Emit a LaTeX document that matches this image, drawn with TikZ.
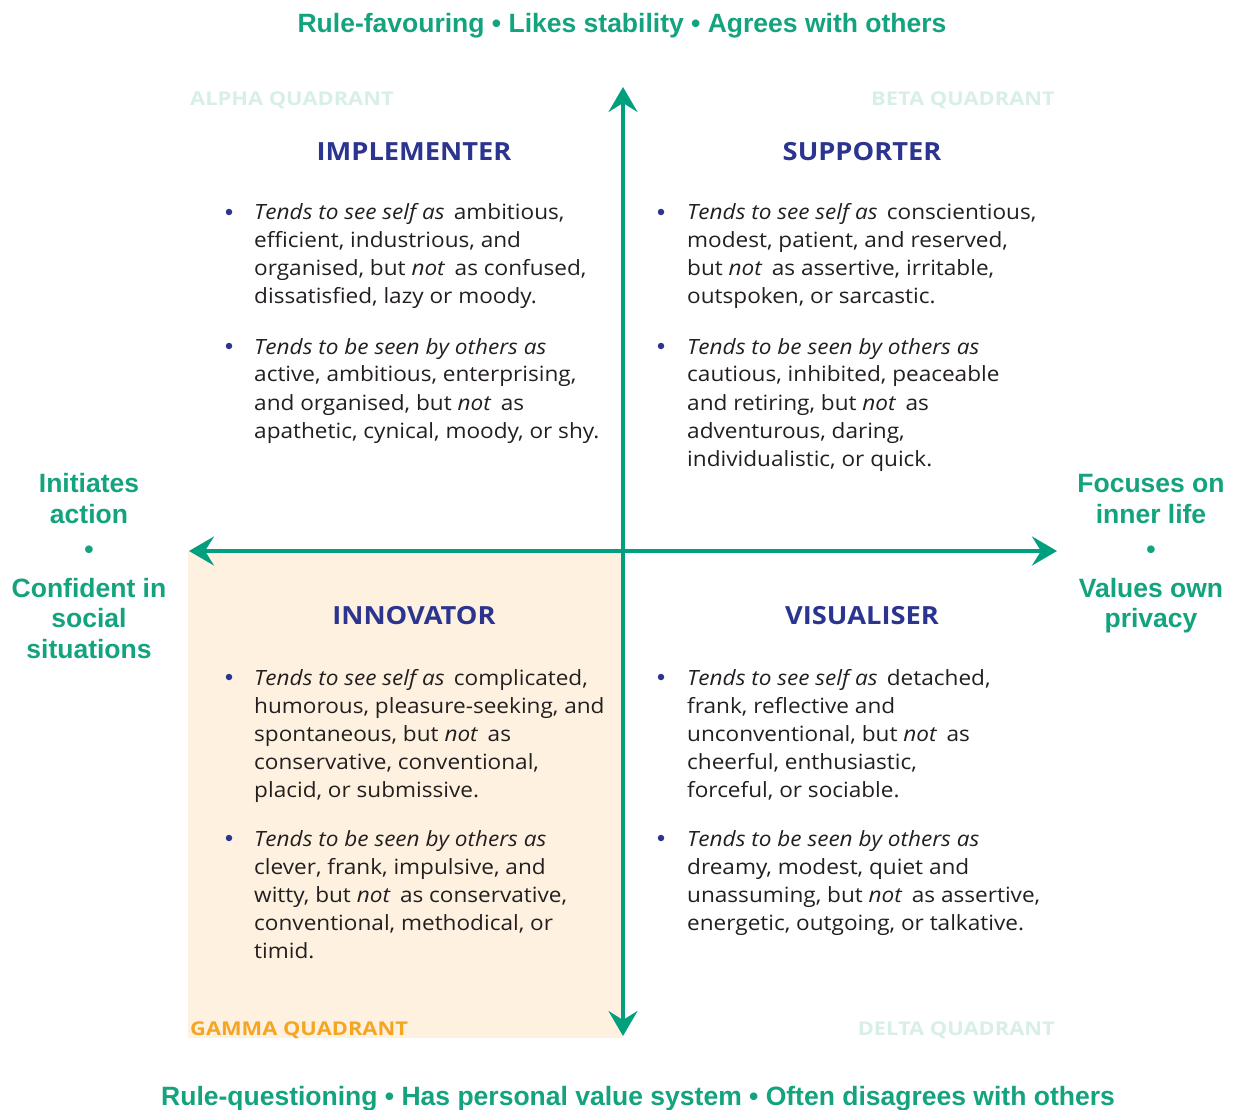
\documentclass[tikz,border=0pt]{standalone}
\usepackage{fontspec}
\setmainfont{Open Sans}[FakeStretch=1.075]
\newfontfamily\headfont{Liberation Sans}
\newfontfamily\titlefont{Open Sans}[FakeStretch=1.09]
\newfontfamily\qfont{Open Sans}[FakeStretch=1.15]
\usetikzlibrary{arrows.meta}
\definecolor{agreen}{HTML}{00A07E}
\definecolor{hgreen}{HTML}{13A37E}
\definecolor{tblue}{HTML}{2B3590}
\definecolor{bodyc}{HTML}{231F20}
\definecolor{qlight}{HTML}{D8EFE7}
\definecolor{gfill}{HTML}{FEF1E0}
\definecolor{gorange}{HTML}{F6A523}
\newcommand\bpara[1]{\parbox[t]{420pt}{\fontsize{21}{28}\selectfont\raggedright #1}}
\begin{document}
\begin{tikzpicture}[x=1pt,y=-1pt,
  headtxt/.style={font=\headfont\bfseries\fontsize{26.5}{30}\selectfont, text=hgreen, inner sep=0, anchor=base},
  qtitle/.style={font=\titlefont\bfseries\fontsize{25}{28}\selectfont, text=tblue, inner sep=0, anchor=base},
  qlabel/.style={font=\qfont\bfseries\fontsize{19}{22}\selectfont, inner sep=0},
  bodytxt/.style={inner sep=0, anchor=base west, text=bodyc},
  bdot/.style={circle, fill=tblue, inner sep=0, minimum size=6.5pt},
  axis/.style={draw=agreen, line width=3.5pt,
    {Stealth[length=25pt,width=29pt,inset=9pt]}-{Stealth[length=25pt,width=29pt,inset=9pt]}}
]
\useasboundingbox (0,0) rectangle (1243,1110);
\fill[white] (0,0) rectangle (1243,1110);
\fill[gfill] (188,551) rectangle (623,1038);

% axes
\coordinate (top) at (623,87);
\coordinate (bot) at (623,1036);
\coordinate (lft) at (189,551);
\coordinate (rgt) at (1057,551);
\draw[axis] (bot) -- (top);
\draw[axis] (lft) -- (rgt);

% top / bottom
\node[headtxt] (toptxt) at (622,33) {Rule-favouring • Likes stability • Agrees with others};
\node[headtxt] (bottxt) at (638,1105) {Rule-questioning • Has personal value system • Often disagrees with others};

% left
\node[headtxt] (l1) at (89,492) {Initiates};
\node[headtxt] (l2) at (89,523) {action};
\node[headtxt] (l3) at (89,558) {•};
\node[headtxt] (l4) at (89,597) {Confident in};
\node[headtxt] (l5) at (89,627) {social};
\node[headtxt] (l6) at (89,658) {situations};
% right
\node[headtxt] (r1) at (1151,492) {Focuses on};
\node[headtxt] (r2) at (1151,523) {inner life};
\node[headtxt] (r3) at (1151,558) {•};
\node[headtxt] (r4) at (1151,597) {Values own};
\node[headtxt] (r5) at (1151,627) {privacy};

% quadrant labels
\node[qlabel, anchor=base west, text=qlight] (qa) at (190,106) {ALPHA QUADRANT};
\node[qlabel, anchor=base east, text=qlight] (qb) at (1055,106) {BETA QUADRANT};
\node[qlabel, anchor=base west, text=gorange] (qg) at (190,1035) {GAMMA QUADRANT};
\node[qlabel, anchor=base east, text=qlight] (qd) at (1055,1035) {DELTA QUADRANT};

% titles
\node[qtitle] (timp) at (414,161) {IMPLEMENTER};
\node[qtitle] (tsup) at (862,161) {SUPPORTER};
\node[qtitle] (tinn) at (414,624) {INNOVATOR};
\node[qtitle] (tvis) at (862,624) {VISUALISER};

% bullets
\node[bdot] (d1) at (229,212) {};
\node[bdot] (d2) at (229,346) {};
\node[bdot] (d3) at (661,212) {};
\node[bdot] (d4) at (661,346) {};
\node[bdot] (d5) at (229,677) {};
\node[bdot] (d6) at (229,838) {};
\node[bdot] (d7) at (661,677) {};
\node[bdot] (d8) at (661,838) {};

% implementer
\node[bodytxt] (p1) at (254,220) {\bpara{\textit{Tends to see self as}\ \,ambitious,\\efficient, industrious, and\\organised, but \textit{not}\ \,as confused,\\dissatisfied, lazy or moody.}};
\node[bodytxt] (p2) at (254,354) {\bpara{\textit{Tends to be seen by others as}\\active, ambitious, enterprising,\\and organised, but \textit{not}\ \,as\\apathetic, cynical, moody, or shy.}};
% supporter
\node[bodytxt] (p3) at (687,220) {\bpara{\textit{Tends to see self as}\ \,conscientious,\\modest, patient, and reserved,\\but \textit{not}\ \,as assertive, irritable,\\outspoken, or sarcastic.}};
\node[bodytxt] (p4) at (687,354) {\bpara{\textit{Tends to be seen by others as}\\cautious, inhibited, peaceable\\and retiring, but \textit{not}\ \,as\\adventurous, daring,\\individualistic, or quick.}};
% innovator
\node[bodytxt] (p5) at (254,685) {\bpara{\textit{Tends to see self as}\ \,complicated,\\humorous, pleasure-seeking, and\\spontaneous, but \textit{not}\ \,as\\conservative, conventional,\\placid, or submissive.}};
\node[bodytxt] (p6) at (254,846) {\bpara{\textit{Tends to be seen by others as}\\clever, frank, impulsive, and\\witty, but \textit{not}\ \,as conservative,\\conventional, methodical, or\\timid.}};
% visualiser
\node[bodytxt] (p7) at (687,685) {\bpara{\textit{Tends to see self as}\ \,detached,\\frank, reflective and\\unconventional, but \textit{not}\ \,as\\cheerful, enthusiastic,\\forceful, or sociable.}};
\node[bodytxt] (p8) at (687,846) {\bpara{\textit{Tends to be seen by others as}\\dreamy, modest, quiet and\\unassuming, but \textit{not}\ \,as assertive,\\energetic, outgoing, or talkative.}};
\end{tikzpicture}
\end{document}
